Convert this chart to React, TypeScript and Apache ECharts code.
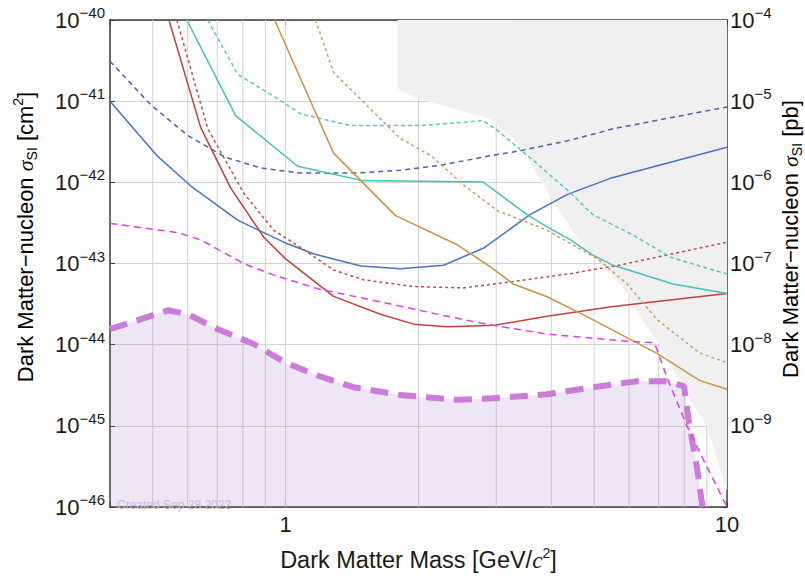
import React, { useEffect, useRef } from "react";
import * as echarts from "echarts";

const FONT = "'Liberation Sans', Arial, Helvetica, sans-serif";

// Axis ranges (cm^2 on the left, pb on the right)
const xMin = 0.4;
const xMax = 10;
const yMin = 1e-46;
const yMax = 1e-40;
const pbMin = 1e-10;
const pbMax = 1e-4;

// Minor vertical grid positions (GeV)
const gridXs = [0.5, 0.6, 0.7, 0.8, 0.9, 1, 2, 3, 4, 5, 6, 7, 8, 9];

// Blue solid
const blueX = [0.4, 0.51, 0.61, 0.78, 0.99, 1.16, 1.48, 1.82, 2.28, 2.81, 3.58, 4.35, 5.44, 10];
const blueY = [1.0e-41, 2.15e-42, 9.0e-43, 3.4e-43, 1.83e-43, 1.31e-43, 9.3e-44, 8.6e-44, 9.5e-44, 1.55e-43, 4.0e-43, 7.1e-43, 1.12e-42, 2.7e-42];

// Blue dashed
const blueDX = [0.4, 0.495, 0.6, 0.73, 0.88, 1.08, 1.45, 1.82, 2.24, 2.86, 3.4, 4.42, 5.52, 10];
const blueDY = [3.1e-41, 9.0e-42, 3.78e-42, 2.04e-42, 1.5e-42, 1.3e-42, 1.3e-42, 1.41e-42, 1.62e-42, 2.09e-42, 2.45e-42, 3.31e-42, 4.57e-42, 8.5e-42];

// Red solid
const redX = [0.544, 0.642, 0.751, 0.892, 1.0, 1.284, 1.64, 1.95, 2.32, 2.98, 3.91, 5.52, 10];
const redY = [1e-40, 4.72e-42, 8.5e-43, 2.11e-43, 1.14e-43, 3.93e-44, 2.37e-44, 1.79e-44, 1.66e-44, 1.74e-44, 2.24e-44, 2.95e-44, 4.27e-44];

// Red dotted
const redDX = [0.567, 0.666, 0.803, 0.939, 1.08, 1.284, 1.5, 1.95, 2.53, 3.28, 4.42, 5.73, 10];
const redDY = [1e-40, 4.59e-42, 7.4e-43, 2.57e-43, 1.58e-43, 8.3e-44, 6.3e-44, 5.2e-44, 5.0e-44, 6.0e-44, 7.5e-44, 9.6e-44, 1.83e-43];

// Teal solid
const tealX = [0.597, 0.771, 1.065, 1.493, 2.8, 3.53, 3.91, 4.42, 4.97, 5.52, 7.55, 10];
const tealY = [1e-40, 6.6e-42, 1.58e-42, 1.05e-42, 1.01e-42, 3.98e-43, 2.82e-43, 1.95e-43, 1.27e-43, 9.5e-44, 5.6e-44, 4.27e-44];

// Teal dashed
const tealDX = [0.666, 0.779, 0.959, 1.081, 1.403, 2.02, 2.8, 3.02, 3.64, 4.42, 4.97, 6.13, 7.43, 10];
const tealDY = [1e-40, 2.14e-41, 1.07e-41, 6.98e-42, 5.0e-42, 5.0e-42, 5.75e-42, 4.37e-42, 1.86e-42, 7.4e-43, 3.98e-43, 2.24e-43, 1.2e-43, 7.4e-44];

// Gold solid
const goldX = [0.944, 1.284, 1.774, 2.45, 2.91, 3.28, 3.91, 4.65, 6.94, 8.66, 10];
const goldY = [1e-40, 2.29e-42, 3.89e-43, 1.7e-43, 9.1e-44, 5.6e-44, 3.89e-44, 2.45e-44, 7.8e-45, 3.63e-45, 2.82e-45];

// Gold dotted
const goldDX = [1.169, 1.284, 1.532, 1.82, 2.13, 2.53, 3.02, 3.91, 5.08, 5.94, 6.94, 8.66, 10];
const goldDY = [1e-40, 2.26e-41, 8.7e-42, 3.47e-42, 2.14e-42, 9.3e-43, 4.47e-43, 2.57e-43, 1.15e-43, 5.6e-44, 2.04e-44, 7.9e-45, 6.0e-45];

// Magenta dashed
const magX = [0.4, 0.503, 0.57, 0.642, 0.803, 0.94, 1.18, 1.73, 2.32, 2.86, 3.91, 5.73, 6.85, 7.33, 8.1, 8.9, 10];
const magY = [3.12e-43, 2.63e-43, 2.4e-43, 1.95e-43, 1.0e-43, 7.2e-44, 4.9e-44, 3.16e-44, 2.24e-44, 1.78e-44, 1.35e-44, 1.12e-44, 1.05e-44, 3.8e-45, 1.02e-45, 3.55e-46, 1.0e-46];

// Purple thick dashed (filled below)
const purX = [0.4, 0.541, 0.6, 0.702, 0.846, 1.0, 1.18, 1.425, 1.82, 2.45, 2.95, 3.91, 4.97, 6.25, 7.23, 7.99, 8.2, 8.55, 8.8];
const purY = [1.55e-44, 2.65e-44, 2.37e-44, 1.55e-44, 1.02e-44, 6.0e-45, 4.17e-45, 2.99e-45, 2.4e-45, 2.09e-45, 2.19e-45, 2.45e-45, 2.99e-45, 3.55e-45, 3.55e-45, 3.09e-45, 1.1e-45, 3.09e-46, 1.0e-46];

// Gray excluded region outline
const grayX = [1.792, 1.792, 2.0, 2.91, 3.4, 3.834, 4.19, 4.58, 4.98, 5.97, 6.4, 6.94, 7.43, 8.12, 9.01, 10, 10];
const grayY = [1e-40, 1.41e-41, 1.06e-41, 6.07e-42, 2.85e-42, 9.3e-43, 4.27e-43, 2.09e-43, 1.27e-43, 4.27e-44, 2.12e-44, 1.11e-44, 5.83e-45, 2.38e-45, 9.8e-46, 1.58e-46, 1e-40];

// ECharts rounds tiny numbers to 0, so the axes work in units of the axis minimum.
const Y_UNIT = yMin;
const PB_UNIT = pbMin;
const Y_EXP0 = -46;
const PB_EXP0 = -10;
const sy = (v: number) => v / Y_UNIT;

const pair = (xs: number[], ys: number[]) => xs.map((x, i) => [x, sy(ys[i])]);

const expOf = (v: number) => Math.log(v) / Math.LN10;

const yLabel = (offset: number, hideExp: number | null) => (v: number) => {
  const l = expOf(v);
  const r = Math.round(l);
  if (Math.abs(l - r) > 1e-3) return "";
  const e = r + offset;
  if (hideExp !== null && e === hideExp) return "";
  return `{b|10}{s|${e < 0 ? "\u2212" : ""}${Math.abs(e)}}`;
};

const tickRich = {
  b: { fontSize: 22, lineHeight: 30, fontFamily: FONT, color: "#1a1a1a" },
  s: { fontSize: 15, lineHeight: 15, verticalAlign: "top", fontFamily: FONT, color: "#1a1a1a" },
};

const makeNameRich = (size: number) => ({
  n: { fontSize: size, lineHeight: 28, fontFamily: FONT, color: "#1a1a1a" },
  i: { fontSize: size, lineHeight: 28, fontFamily: "'Liberation Serif', 'DejaVu Serif', serif", fontStyle: "italic", color: "#1a1a1a" },
  sub: { fontSize: 14, lineHeight: 14, verticalAlign: "bottom", fontFamily: FONT, color: "#1a1a1a" },
  sup: { fontSize: 14, lineHeight: 14, verticalAlign: "top", fontFamily: FONT, color: "#1a1a1a" },
});
const nameRich = makeNameRich(22);
const xNameRich = makeNameRich(23.5);

const AXIS_COLOR = "#3a3a3a";
const GRID_COLOR = "#d2d2d2";

function lineSeries(name: string, xs: number[], ys: number[], color: string, type: any, width = 1.5, z = 5) {
  return {
    name,
    type: "line",
    xAxisIndex: 0,
    yAxisIndex: 0,
    data: pair(xs, ys),
    showSymbol: false,
    symbol: "none",
    silent: true,
    z,
    lineStyle: { color, width, type },
  };
}

export default function App() {
  const ref = useRef<HTMLDivElement>(null);

  useEffect(() => {
    if (!ref.current) return;
    const chart = echarts.init(ref.current, undefined, { renderer: "svg" });
    const yLo = sy(yMin);
    const yHi = sy(yMax);

    const option: any = {
      animation: false,
      backgroundColor: "#ffffff",
      grid: { left: 110, top: 20, right: 78, bottom: 64, containLabel: false },
      xAxis: [
        {
          type: "log",
          logBase: 10,
          min: xMin,
          max: xMax,
          position: "bottom",
          axisLine: { show: true, lineStyle: { color: AXIS_COLOR, width: 1.5 } },
          axisTick: { show: true, inside: true, length: 5, lineStyle: { color: AXIS_COLOR } },
          axisLabel: {
            fontSize: 22,
            fontFamily: FONT,
            color: "#1a1a1a",
            margin: 6,
            formatter: (v: number) => {
              const l = expOf(v);
              const e = Math.round(l);
              if (Math.abs(l - e) > 1e-3) return "";
              return String(Math.round(Math.pow(10, e)));
            },
          },
          splitLine: { show: false },
          name: "{n|Dark Matter Mass [GeV/}{i|c}{sup|2}{n|]}",
          nameLocation: "middle",
          nameGap: 39,
          nameTextStyle: { rich: xNameRich },
        },
        {
          type: "log",
          logBase: 10,
          min: xMin,
          max: xMax,
          position: "top",
          axisLine: { show: true, lineStyle: { color: AXIS_COLOR, width: 1.5 } },
          axisTick: { show: true, inside: true, length: 5, lineStyle: { color: AXIS_COLOR } },
          axisLabel: { show: false },
          splitLine: { show: false },
        },
      ],
      yAxis: [
        {
          type: "log",
          logBase: 10,
          min: yLo,
          max: yHi,
          splitNumber: 6,
          position: "left",
          axisLine: { show: true, lineStyle: { color: AXIS_COLOR, width: 1.5 } },
          axisTick: { show: true, inside: true, length: 5, lineStyle: { color: AXIS_COLOR } },
          axisLabel: { formatter: yLabel(Y_EXP0, null), rich: tickRich, margin: 5 },
          splitLine: { show: true, lineStyle: { color: GRID_COLOR, width: 1 } },
        },
        {
          type: "log",
          logBase: 10,
          min: pbMin / PB_UNIT,
          max: pbMax / PB_UNIT,
          splitNumber: 6,
          position: "right",
          axisLine: { show: true, lineStyle: { color: AXIS_COLOR, width: 1.5 } },
          axisTick: { show: true, inside: true, length: 5, lineStyle: { color: AXIS_COLOR } },
          axisLabel: { formatter: yLabel(PB_EXP0, -10), rich: tickRich, margin: 3 },
          splitLine: { show: false },
        },
      ],
      series: [
        {
          type: "custom",
          name: "grid",
          xAxisIndex: 0,
          yAxisIndex: 0,
          silent: true,
          z: 1,
          data: gridXs.map((x) => [x, yLo]),
          renderItem: (params: any, api: any) => {
            const x = api.value(0);
            const p1 = api.coord([x, yLo]);
            const p2 = api.coord([x, yHi]);
            return {
              type: "line",
              shape: { x1: p1[0], y1: p1[1], x2: p2[0], y2: p2[1] },
              style: { stroke: GRID_COLOR, lineWidth: 1 },
            };
          },
        },
        {
          type: "custom",
          name: "excluded",
          xAxisIndex: 0,
          yAxisIndex: 0,
          silent: true,
          z: 2,
          data: pair(grayX, grayY),
          renderItem: (params: any, api: any) => {
            if (params.dataIndex !== 0) return null;
            const pts = grayX.map((x, i) => api.coord([x, sy(grayY[i])]));
            return {
              type: "polygon",
              shape: { points: pts },
              style: { fill: "#f0f0f0", stroke: "none" },
            };
          },
        },
        {
          name: "projected",
          type: "line",
          xAxisIndex: 0,
          yAxisIndex: 0,
          data: pair(purX, purY),
          showSymbol: false,
          symbol: "none",
          silent: true,
          z: 3,
          lineStyle: { color: "#cb7bd8", width: 6, type: [18, 10] },
          areaStyle: { origin: "start", color: "rgba(170,130,200,0.28)" },
        },
        lineSeries("blueDashed", blueDX, blueDY, "#4a62aa", [5, 4]),
        lineSeries("blue", blueX, blueY, "#4a74bf", "solid"),
        lineSeries("redDotted", redDX, redDY, "#b9504c", [3, 3]),
        lineSeries("red", redX, redY, "#c2403f", "solid"),
        lineSeries("tealDashed", tealDX, tealDY, "#58c6c0", [4, 3]),
        lineSeries("teal", tealX, tealY, "#44c1b9", "solid"),
        lineSeries("goldDotted", goldDX, goldDY, "#c99d5c", [3, 3]),
        lineSeries("gold", goldX, goldY, "#c8963e", "solid"),
        lineSeries("magenta", magX, magY, "#e03fe3", [7, 5]),
      ],
      graphic: [
        {
          type: "text",
          x: 25,
          y: 237,
          rotation: Math.PI / 2,
          silent: true,
          style: {
            text: "{n|Dark Matter\u2212nucleon }{i|\u03c3}{sub|SI}{n| [cm}{sup|2}{n|]}",
            rich: nameRich,
            align: "center",
            verticalAlign: "middle",
          },
        },
        {
          type: "text",
          x: 790,
          y: 239,
          rotation: Math.PI / 2,
          silent: true,
          style: {
            text: "{n|Dark Matter\u2212nucleon }{i|\u03c3}{sub|SI}{n| [pb]}",
            rich: nameRich,
            align: "center",
            verticalAlign: "middle",
          },
        },
        {
          type: "text",
          x: 117,
          y: 505,
          silent: true,
          z: 10,
          style: {
            text: "Created Sep 28 2022",
            fontSize: 12,
            fontFamily: FONT,
            fill: "#c6bbd6",
            align: "left",
            verticalAlign: "middle",
          },
        },
      ],
    };

    chart.setOption(option);
    return () => chart.dispose();
  }, []);

  return (
    <div
      ref={ref}
      style={{ position: "absolute", left: 0, top: 0, width: 805, height: 577 }}
    />
  );
}
